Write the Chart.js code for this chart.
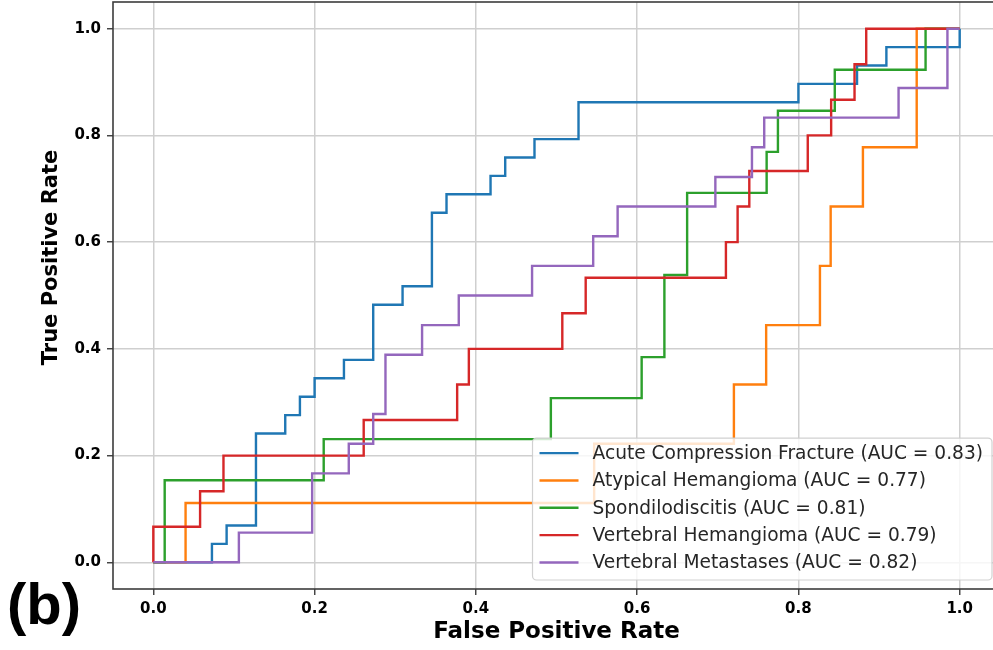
<!DOCTYPE html>
<html>
<head>
<meta charset="utf-8">
<title>ROC curves</title>
<script src="https://cdn.jsdelivr.net/npm/chart.js@4.4.1/dist/chart.umd.min.js"></script>
<style>
  html, body { margin: 0; padding: 0; background: #ffffff; overflow: hidden; }
  #wrap { position: relative; width: 1000px; height: 650px; }
  canvas { display: block; }
</style>
</head>
<body>
<div id="wrap"><canvas id="roc" width="1000" height="650"></canvas></div>
<script>
// Axis ticks
const fprTicks = [0.0, 0.2, 0.4, 0.6, 0.8, 1.0];
const tprTicks = [0.0, 0.2, 0.4, 0.6, 0.8, 1.0];

// Class names and their AUC values shown in the legend
const classNames = [
  'Acute Compression Fracture',
  'Atypical Hemangioma',
  'Spondilodiscitis',
  'Vertebral Hemangioma',
  'Vertebral Metastases'
];
const aucValues = [0.83, 0.77, 0.81, 0.79, 0.82];

// ROC operating points (false positive rate / true positive rate)
const acuteFpr = [0, 0.0727, 0.0727, 0.0909, 0.0909, 0.1273, 0.1273, 0.1636, 0.1636, 0.1818, 0.1818, 0.2, 0.2, 0.2364, 0.2364, 0.2727, 0.2727, 0.3091, 0.3091, 0.3455, 0.3455, 0.3636, 0.3636, 0.4182, 0.4182, 0.4364, 0.4364, 0.4727, 0.4727, 0.5273, 0.5273, 0.8, 0.8, 0.8727, 0.8727, 0.9091, 0.9091, 1.0, 1.0];
const acuteTpr = [0, 0, 0.0345, 0.0345, 0.069, 0.069, 0.2414, 0.2414, 0.2759, 0.2759, 0.3103, 0.3103, 0.3448, 0.3448, 0.3793, 0.3793, 0.4828, 0.4828, 0.5172, 0.5172, 0.6552, 0.6552, 0.6897, 0.6897, 0.7241, 0.7241, 0.7586, 0.7586, 0.7931, 0.7931, 0.8621, 0.8621, 0.8966, 0.8966, 0.931, 0.931, 0.9655, 0.9655, 1.0];

const atypicalFpr = [0, 0.04, 0.04, 0.5467, 0.5467, 0.72, 0.72, 0.76, 0.76, 0.8267, 0.8267, 0.84, 0.84, 0.88, 0.88, 0.9467, 0.9467, 1.0];
const atypicalTpr = [0, 0, 0.1111, 0.1111, 0.2222, 0.2222, 0.3333, 0.3333, 0.4444, 0.4444, 0.5556, 0.5556, 0.6667, 0.6667, 0.7778, 0.7778, 1.0, 1.0];

const spondFpr = [0, 0.0141, 0.0141, 0.2113, 0.2113, 0.493, 0.493, 0.6056, 0.6056, 0.6338, 0.6338, 0.662, 0.662, 0.7606, 0.7606, 0.7746, 0.7746, 0.8451, 0.8451, 0.9577, 0.9577, 1.0];
const spondTpr = [0, 0, 0.1538, 0.1538, 0.2308, 0.2308, 0.3077, 0.3077, 0.3846, 0.3846, 0.5385, 0.5385, 0.6923, 0.6923, 0.7692, 0.7692, 0.8462, 0.8462, 0.9231, 0.9231, 1.0, 1.0];

const hemangiomaFpr = [0, 0, 0.058, 0.058, 0.087, 0.087, 0.2609, 0.2609, 0.3768, 0.3768, 0.3913, 0.3913, 0.5072, 0.5072, 0.5362, 0.5362, 0.7101, 0.7101, 0.7246, 0.7246, 0.7391, 0.7391, 0.8116, 0.8116, 0.8406, 0.8406, 0.8696, 0.8696, 0.8841, 0.8841, 1.0];
const hemangiomaTpr = [0, 0.0667, 0.0667, 0.1333, 0.1333, 0.2, 0.2, 0.2667, 0.2667, 0.3333, 0.3333, 0.4, 0.4, 0.4667, 0.4667, 0.5333, 0.5333, 0.6, 0.6, 0.6667, 0.6667, 0.7333, 0.7333, 0.8, 0.8, 0.8667, 0.8667, 0.9333, 0.9333, 1.0, 1.0];

const metastasesFpr = [0, 0.1061, 0.1061, 0.197, 0.197, 0.2424, 0.2424, 0.2727, 0.2727, 0.2879, 0.2879, 0.3333, 0.3333, 0.3788, 0.3788, 0.4697, 0.4697, 0.5455, 0.5455, 0.5758, 0.5758, 0.697, 0.697, 0.7424, 0.7424, 0.7576, 0.7576, 0.9242, 0.9242, 0.9848, 0.9848, 1.0];
const metastasesTpr = [0, 0, 0.0556, 0.0556, 0.1667, 0.1667, 0.2222, 0.2222, 0.2778, 0.2778, 0.3889, 0.3889, 0.4444, 0.4444, 0.5, 0.5, 0.5556, 0.5556, 0.6111, 0.6111, 0.6667, 0.6667, 0.7222, 0.7222, 0.7778, 0.7778, 0.8333, 0.8333, 0.8889, 0.8889, 1.0, 1.0];

const curveFpr = [acuteFpr, atypicalFpr, spondFpr, hemangiomaFpr, metastasesFpr];
const curveTpr = [acuteTpr, atypicalTpr, spondTpr, hemangiomaTpr, metastasesTpr];
const curveColors = ['#1f77b4', '#ff7f0e', '#2ca02c', '#d62728', '#9467bd'];

const datasets = classNames.map((name, i) => ({
  label: `${name} (AUC = ${aucValues[i].toFixed(2)})`,
  data: curveFpr[i].map((x, j) => ({ x: x, y: curveTpr[i][j] })),
  showLine: true,
  borderColor: curveColors[i],
  backgroundColor: curveColors[i],
  borderWidth: 2.4,
  pointRadius: 0,
  pointHoverRadius: 0,
  tension: 0,
  fill: false,
  order: classNames.length - 1 - i
}));

const SPINE = '#3c3c3c';
const GRID = '#cfcfcf';
const TICK_FONT = { family: 'DejaVu Sans', size: 15, weight: 'bold' };

// Frame, legend, y-axis title and panel tag
const decorations = {
  id: 'decorations',
  afterDatasetsDraw(chart) {
    const { ctx, chartArea: a } = chart;
    ctx.save();
    // axes frame on all four sides
    ctx.strokeStyle = SPINE;
    ctx.lineWidth = 1.6;
    ctx.strokeRect(a.left, a.top, a.right - a.left, a.bottom - a.top);

    // legend in the lower right corner
    ctx.font = '18.6px "DejaVu Sans"';
    const labels = chart.data.datasets.map(d => d.label);
    const textW = Math.max(...labels.map(t => ctx.measureText(t).width));
    const rowH = 27.35;
    const boxW = 60 + textW + 9;
    const boxH = 15 + rowH * (labels.length - 1) + 17.5;
    const bx = a.right - 8 - boxW;
    const by = a.bottom - 9 - boxH;
    const r = 4;
    ctx.beginPath();
    ctx.moveTo(bx + r, by);
    ctx.lineTo(bx + boxW - r, by);
    ctx.arcTo(bx + boxW, by, bx + boxW, by + r, r);
    ctx.lineTo(bx + boxW, by + boxH - r);
    ctx.arcTo(bx + boxW, by + boxH, bx + boxW - r, by + boxH, r);
    ctx.lineTo(bx + r, by + boxH);
    ctx.arcTo(bx, by + boxH, bx, by + boxH - r, r);
    ctx.lineTo(bx, by + r);
    ctx.arcTo(bx, by, bx + r, by, r);
    ctx.closePath();
    ctx.fillStyle = 'rgba(255,255,255,0.8)';
    ctx.fill();
    ctx.strokeStyle = 'rgba(204,204,204,0.9)';
    ctx.lineWidth = 1.2;
    ctx.stroke();

    ctx.textAlign = 'left';
    ctx.textBaseline = 'middle';
    labels.forEach((t, i) => {
      const cy = by + 15 + i * rowH;
      ctx.strokeStyle = chart.data.datasets[i].borderColor;
      ctx.lineWidth = 2.4;
      ctx.beginPath();
      ctx.moveTo(bx + 7, cy);
      ctx.lineTo(bx + 46, cy);
      ctx.stroke();
      ctx.fillStyle = '#262626';
      ctx.fillText(t, bx + 60, cy + 1);
    });
    ctx.restore();
  },
  afterDraw(chart) {
    const { ctx } = chart;
    ctx.save();
    // y-axis title
    ctx.fillStyle = '#000000';
    ctx.font = 'bold 21px "DejaVu Sans"';
    ctx.textAlign = 'center';
    ctx.textBaseline = 'middle';
    ctx.translate(51.5, 257.5);
    ctx.rotate(-Math.PI / 2);
    ctx.fillText('True Positive Rate', 0, 0);
    ctx.restore();

    // panel tag
    ctx.save();
    ctx.fillStyle = '#000000';
    ctx.font = 'bold 58px "Liberation Sans"';
    ctx.textAlign = 'left';
    ctx.textBaseline = 'alphabetic';
    ctx.fillText('(b)', 7, 624);
    ctx.restore();
  }
};

new Chart(document.getElementById('roc'), {
  type: 'scatter',
  data: { datasets: datasets },
  options: {
    responsive: false,
    animation: false,
    events: [],
    layout: { padding: { top: 2, right: 0, bottom: 0, left: 0 } },
    plugins: {
      legend: { display: false },
      tooltip: { enabled: false },
      title: { display: false }
    },
    scales: {
      x: {
        type: 'linear',
        min: -0.05,
        max: 1.05,
        afterBuildTicks: s => { s.ticks = fprTicks.map(v => ({ value: v })); },
        afterFit: s => { s.height = 61; s.paddingLeft = 0; s.paddingRight = 0; },
        ticks: {
          font: TICK_FONT,
          color: '#000000',
          padding: 5,
          maxRotation: 0,
          callback: v => Number(v).toFixed(1)
        },
        grid: {
          color: GRID,
          lineWidth: 1.5,
          tickColor: SPINE,
          tickLength: 6,
          tickWidth: 1.4
        },
        border: { display: false },
        title: {
          display: true,
          text: 'False Positive Rate',
          color: '#000000',
          font: { family: 'DejaVu Sans', size: 23, weight: 'bold' },
          padding: { top: 0, bottom: 4 }
        }
      },
      y: {
        type: 'linear',
        min: -0.05,
        max: 1.05,
        afterBuildTicks: s => { s.ticks = tprTicks.map(v => ({ value: v })); },
        afterFit: s => { s.width = 113; s.paddingTop = 0; s.paddingBottom = 0; },
        ticks: {
          font: TICK_FONT,
          color: '#000000',
          padding: 6,
          callback: v => Number(v).toFixed(1)
        },
        grid: {
          color: GRID,
          lineWidth: 1.5,
          tickColor: SPINE,
          tickLength: 6,
          tickWidth: 1.4
        },
        border: { display: false },
        title: { display: false }
      }
    }
  },
  plugins: [decorations]
});
</script>
</body>
</html>
